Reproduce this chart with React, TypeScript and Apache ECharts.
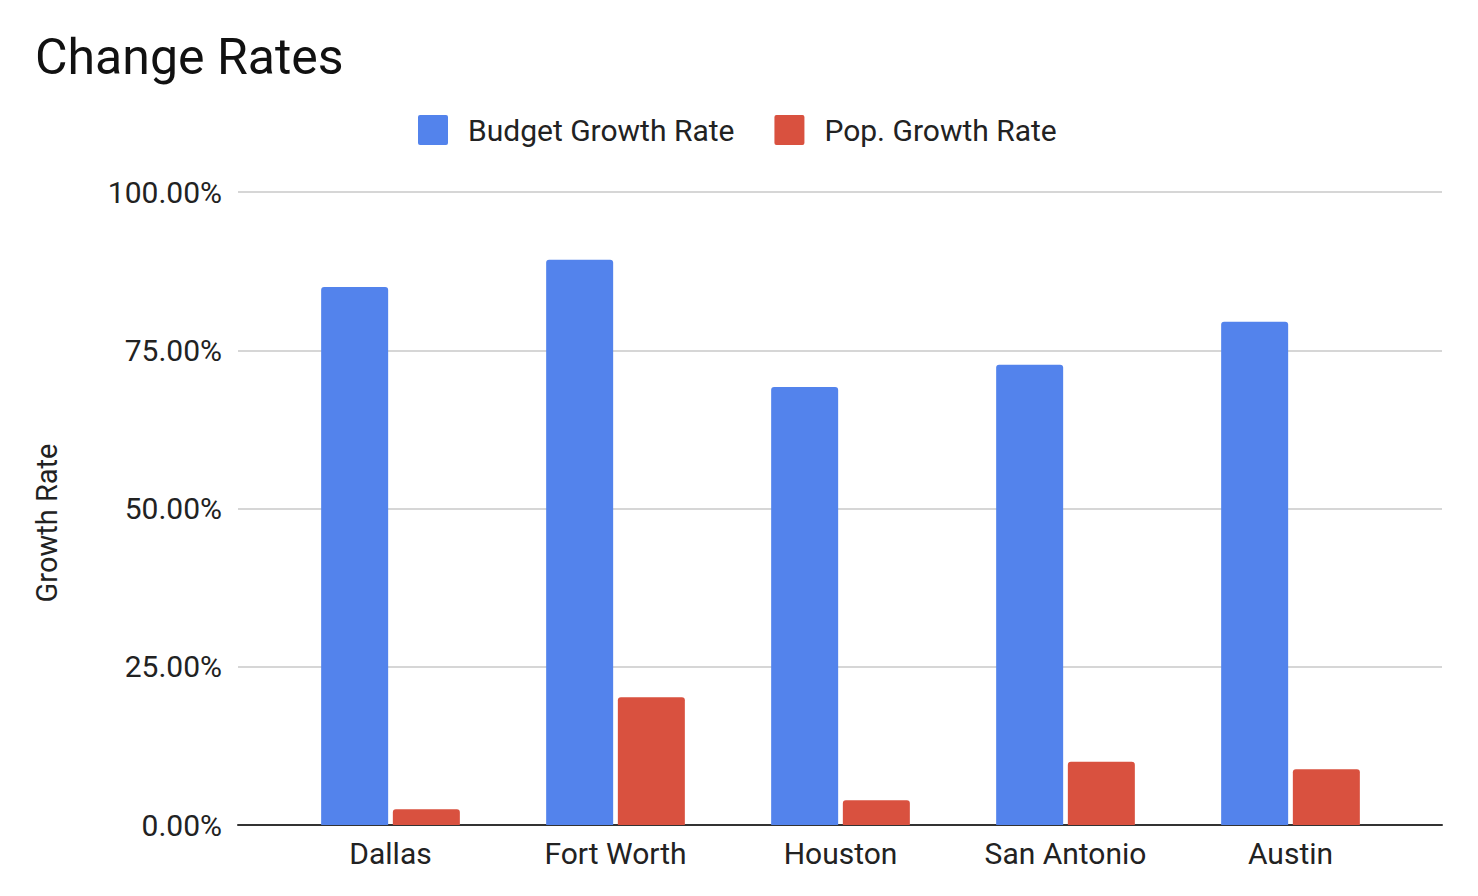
import { useEffect, useRef } from "react";
import * as echarts from "echarts";

const cities = ["Dallas", "Fort Worth", "Houston", "San Antonio", "Austin"];
const budgetGrowth = [85.0, 89.3, 69.2, 72.7, 79.5];
const popGrowth = [2.5, 20.2, 3.9, 10.0, 8.8];
const yTicks = [0, 25, 50, 75, 100];

const FONT = "Roboto";
const SQUARE = "path://M2,0H28Q30,0 30,2V28Q30,30 28,30H2Q0,30 0,28V2Q0,0 2,0Z";

const App = () => {
  const chartRef = useRef<HTMLDivElement>(null);

  useEffect(() => {
    document.body.style.margin = "0";
    if (!chartRef.current) return;
    const chart = echarts.init(chartRef.current, null, { renderer: "svg" });

    chart.setOption({
      animation: false,
      backgroundColor: "#ffffff",
      title: {
        text: "Change Rates",
        left: 30,
        top: 27,
        textStyle: { fontFamily: FONT, fontSize: 50, fontWeight: "normal", color: "#111" },
      },
      legend: {
        left: 413,
        top: 110,
        icon: SQUARE,
        itemWidth: 30,
        itemHeight: 30,
        itemGap: 40,
        textStyle: { fontFamily: FONT, fontSize: 30, color: "#222", padding: [0, 0, 0, 15] },
        data: ["Budget Growth Rate", "Pop. Growth Rate"],
      },
      graphic: [
        {
          type: "text",
          x: 47,
          y: 523,
          rotation: Math.PI / 2,
          style: {
            text: "Growth Rate",
            fontFamily: FONT,
            fontSize: 29,
            fill: "#222",
            align: "center",
            verticalAlign: "middle",
          },
        },
      ],
      grid: [
        { left: 238, right: 36, top: 192, bottom: 71 },
        { left: 278, right: 75, top: 192, bottom: 71 },
      ],
      xAxis: [
        {
          type: "category",
          gridIndex: 0,
          data: cities,
          axisLine: { show: true, lineStyle: { color: "#333", width: 2 } },
          axisTick: { show: false },
          axisLabel: { show: false },
        },
        {
          type: "category",
          gridIndex: 1,
          data: cities,
          axisLine: { show: false },
          axisTick: { show: false },
          axisLabel: { fontFamily: FONT, fontSize: 30, color: "#222", margin: 13 },
        },
      ],
      yAxis: [
        {
          type: "value",
          gridIndex: 0,
          min: yTicks[0],
          max: yTicks[yTicks.length - 1],
          interval: 25,
          axisLine: { show: false },
          axisTick: { show: false },
          axisLabel: {
            fontFamily: FONT,
            fontSize: 30,
            color: "#222",
            margin: 16,
            formatter: (v: number) => v.toFixed(2) + "%",
          },
          splitLine: { lineStyle: { color: "#d6d6d6", width: 2 } },
        },
        {
          type: "value",
          gridIndex: 1,
          min: yTicks[0],
          max: yTicks[yTicks.length - 1],
          interval: 25,
          show: false,
          splitLine: { show: false },
        },
      ],
      series: [
        {
          name: "Budget Growth Rate",
          type: "bar",
          xAxisIndex: 1,
          yAxisIndex: 1,
          data: budgetGrowth,
          barWidth: 67,
          barGap: "7%",
          itemStyle: { color: "#5383EC", borderRadius: [3, 3, 0, 0] },
        },
        {
          name: "Pop. Growth Rate",
          type: "bar",
          xAxisIndex: 1,
          yAxisIndex: 1,
          data: popGrowth,
          barWidth: 67,
          barGap: "7%",
          itemStyle: { color: "#D9513F", borderRadius: [3, 3, 0, 0] },
        },
      ],
    });

    return () => {
      chart.dispose();
    };
  }, []);

  return <div ref={chartRef} style={{ width: 1478, height: 896 }}></div>;
};

export default App;
